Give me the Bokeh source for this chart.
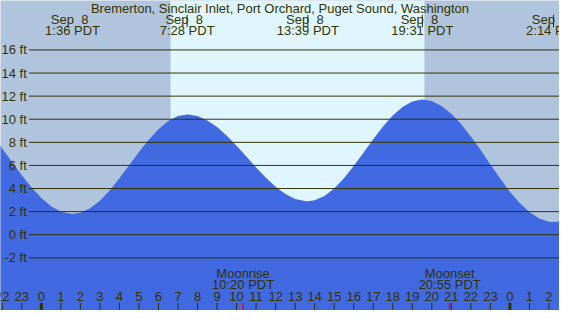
from bokeh.plotting import figure
from bokeh.models import Range1d, ColumnDataSource
from bokeh.core.properties import value
from bokeh.embed import file_html
from bokeh.resources import INLINE

# ---- data (hours since midnight Sep 8, PDT) ----
title_text = "Bremerton, Sinclair Inlet, Port Orchard, Puget Sound, Washington"

curve_hours = [-2.5, -2.0, -1.5, -1.0, -0.5, 0.0, 0.5, 1.0, 1.5, 2.0, 2.5, 3.0, 3.5, 4.0,
               4.5, 5.0, 5.5, 6.0, 6.5, 7.0, 7.5, 8.0, 8.5, 9.0, 9.5, 10.0, 10.5, 11.0,
               11.5, 12.0, 12.5, 13.0, 13.5, 14.0, 14.5, 15.0, 15.5, 16.0, 16.5, 17.0,
               17.5, 18.0, 18.5, 19.0, 19.5, 20.0, 20.5, 21.0, 21.5, 22.0, 22.5, 23.0,
               23.5, 24.0, 24.5, 25.0, 25.5, 26.0, 26.5, 27.0]
curve_feet = [8.59, 7.47, 6.30, 5.15, 4.09, 3.18, 2.47, 2.00, 1.81, 1.90, 2.29, 2.95, 3.84, 4.89,
              6.02, 7.16, 8.22, 9.14, 9.84, 10.27, 10.40, 10.27, 9.90, 9.32, 8.57, 7.70, 6.77, 5.82,
              4.93, 4.15, 3.52, 3.10, 2.91, 2.98, 3.35, 4.00, 4.88, 5.95, 7.10, 8.27,
              9.37, 10.32, 11.06, 11.53, 11.70, 11.57, 11.15, 10.48, 9.58, 8.51, 7.33, 6.09,
              4.87, 3.73, 2.74, 1.96, 1.41, 1.13, 1.15, 1.35]

extreme_hours = [1.6, 7.467, 13.65, 19.517, 26.233]
extreme_feet = [1.8, 10.4, 2.9, 11.7, 1.1]
extreme_dates = ["Sep\u00a0\u00a08", "Sep\u00a0\u00a08", "Sep\u00a0\u00a08", "Sep\u00a0\u00a08", "Sep\u00a0\u00a09"]
extreme_times = ["1:36 PDT", "7:28 PDT", "13:39 PDT", "19:31 PDT", "2:14 PDT"]
extreme_marked = [False, True, True, True, True]

sunrise = 6.62
sunset = 19.62

moon_hours = [10.333, 20.917]
moon_names = ["Moonrise", "Moonset"]
moon_times = ["10:20 PDT", "20:55 PDT"]

grid_feet = [-2, 0, 2, 4, 6, 8, 10, 12, 14, 16]
grid_labels = ["-2 ft", "0 ft", "2 ft", "4 ft", "6 ft", "8 ft", "10 ft", "12 ft", "14 ft", "16 ft"]
hour_ticks = list(range(-2, 27))
hour_labels = [str(h % 24) for h in hour_ticks]

# ---- styling ----
NIGHT = "#B0C4DE"
DAY = "#E0F6FF"
WATER = "#4169E1"
INK = "#333300"
FONT = value("Liberation Sans")
FS = "13px"

X0, X1 = -2.091, 26.54
Y0, Y1 = -6.56, 20.28

p = figure(width=559, height=310, x_range=Range1d(X0, X1), y_range=Range1d(Y0, Y1),
           x_axis_location=None, y_axis_location=None, toolbar_location=None,
           output_backend="svg", min_border=0, background_fill_color=NIGHT,
           border_fill_color=NIGHT, outline_line_color=None)
p.grid.visible = False

# day shading
p.quad(left=[sunrise], right=[sunset], bottom=[Y0], top=[Y1], fill_color=DAY, line_color=None)

# tide curve (merge extremes)
pts = sorted(list(zip(curve_hours, curve_feet)) + list(zip(extreme_hours, extreme_feet)))
src = ColumnDataSource(dict(x=[a for a, b in pts], y=[b for a, b in pts],
                            y0=[Y0] * len(pts)))
p.varea(x="x", y1="y0", y2="y", source=src, fill_color=WATER)

# grid lines
p.segment(x0=[-0.632] * len(grid_feet), x1=[X1] * len(grid_feet), y0=grid_feet, y1=grid_feet,
          line_color=INK, line_width=1)
p.text(x=[-0.747] * len(grid_feet), y=grid_feet, text=grid_labels, text_align="right",
       text_baseline="middle", text_color=INK, text_font=FONT, text_font_size=FS)

# title
p.text(x=[(X0 + X1) / 2], y=[19.62], text=[title_text], text_align="center",
       text_baseline="middle", text_color=INK, text_font=FONT, text_font_size=FS)

# extreme labels
p.text(x=[h - 0.15 for h in extreme_hours], y=[18.6] * 5, text=extreme_dates, text_align="center",
       text_baseline="middle", text_color=INK, text_font=FONT, text_font_size=FS)
p.text(x=extreme_hours, y=[17.68] * 5, text=extreme_times, text_align="center",
       text_baseline="middle", text_color=INK, text_font=FONT, text_font_size=FS)
mk = [h for h, m in zip(extreme_hours, extreme_marked) if m]
p.segment(x0=mk, x1=mk, y0=[17.97] * len(mk), y1=[19.05] * len(mk), line_color=INK, line_width=1)

# moon labels
p.text(x=moon_hours, y=[-3.39, -3.39], text=moon_names, text_align="center",
       text_baseline="middle", text_color=INK, text_font=FONT, text_font_size=FS)
p.text(x=moon_hours, y=[-4.34, -4.34], text=moon_times, text_align="center",
       text_baseline="middle", text_color=INK, text_font=FONT, text_font_size=FS)

# hour axis
p.segment(x0=hour_ticks, x1=hour_ticks, y0=[Y0] * len(hour_ticks), y1=[-5.9] * len(hour_ticks),
          line_color=INK, line_width=1)
mids = [h for h in hour_ticks if h % 24 == 0]
p.segment(x0=mids, x1=mids, y0=[Y0] * len(mids), y1=[-5.9] * len(mids), line_color=INK, line_width=3)
p.segment(x0=moon_hours, x1=moon_hours, y0=[Y0, Y0], y1=[-5.9, -5.9], line_color="red", line_width=1.5)
p.text(x=hour_ticks, y=[-5.33] * len(hour_ticks), text=hour_labels, text_align="center",
       text_baseline="middle", text_color=INK, text_font=FONT, text_font_size=FS)

open("out.html", "w").write(file_html(p, INLINE))
